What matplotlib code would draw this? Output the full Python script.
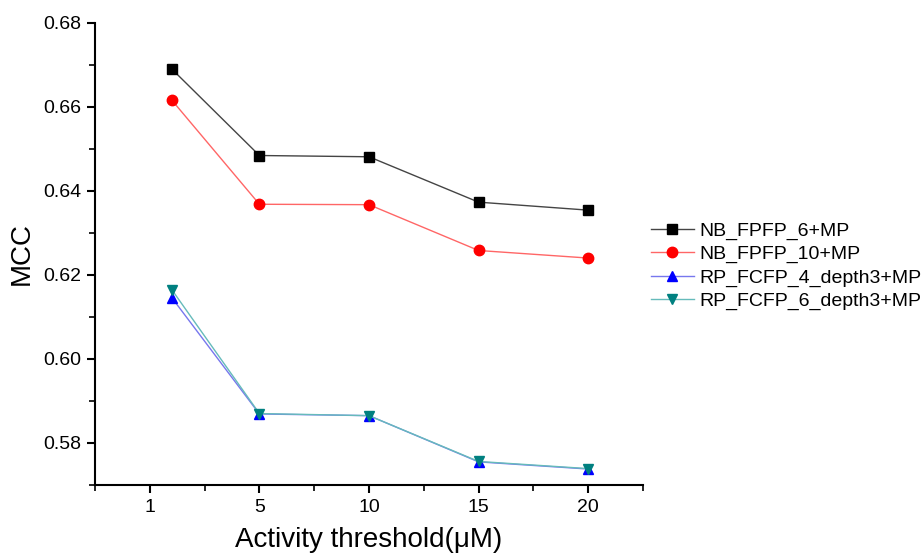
import numpy as np
import matplotlib.pyplot as plt
from matplotlib.ticker import MultipleLocator

plt.rcParams['font.family'] = ['Liberation Sans', 'DejaVu Sans']

thresholds = [1, 5, 10, 15, 20]
tick_pos = [0, 5, 10, 15, 20]
tick_labels = ['1', '5', '10', '15', '20']

nb_fpfp_6 = [0.6690, 0.6484, 0.6481, 0.6373, 0.6354]
nb_fpfp_10 = [0.6616, 0.6368, 0.6367, 0.6258, 0.6240]
rp_fcfp_4 = [0.6146, 0.5869, 0.5865, 0.5755, 0.5738]
rp_fcfp_6 = [0.6165, 0.5870, 0.5865, 0.5756, 0.5739]

labels = ['NB_FPFP_6+MP', 'NB_FPFP_10+MP', 'RP_FCFP_4_depth3+MP', 'RP_FCFP_6_depth3+MP']

fig = plt.figure(figsize=(9.22, 5.56), dpi=100)
ax = fig.add_axes([95 / 922, 1 - 485 / 556, (643 - 95) / 922, (485 - 22.7) / 556])

lines = []
lines += ax.plot(thresholds, nb_fpfp_6, color='#444444', lw=1, marker='s', ms=6.5,
                 mfc='black', mec='black', label=labels[0])
lines += ax.plot(thresholds, nb_fpfp_10, color='#ff6666', lw=1, marker='o', ms=7.5,
                 mfc='red', mec='red', label=labels[1])
lines += ax.plot(thresholds, rp_fcfp_4, color='#7777ee', lw=1, marker='^', ms=7.5,
                 mfc='blue', mec='blue', label=labels[2])
lines += ax.plot(thresholds, rp_fcfp_6, color='#66bbbb', lw=1, marker='v', ms=7.5,
                 mfc='#008080', mec='#008080', label=labels[3])

ax.set_xlim(-2.5, 22.5)
ax.set_ylim(0.57, 0.68)
ax.set_xticks(tick_pos)
ax.set_xticklabels(tick_labels)
ax.xaxis.set_minor_locator(MultipleLocator(2.5))
ax.set_yticks([0.58, 0.60, 0.62, 0.64, 0.66, 0.68])
ax.yaxis.set_minor_locator(MultipleLocator(0.01))
ax.yaxis.set_major_formatter(plt.FormatStrFormatter('%.2f'))

for s in ['top', 'right']:
    ax.spines[s].set_visible(False)
for s in ['left', 'bottom']:
    ax.spines[s].set_linewidth(1.5)

ax.tick_params(which='major', direction='out', length=6, width=1.5, labelsize=14, pad=4)
ax.tick_params(which='minor', direction='out', length=4, width=1.2)

ax.set_xlabel('Activity threshold(μM)', fontsize=20, labelpad=8)
ax.set_ylabel('MCC', fontsize=20, labelpad=6)

fig.legend(handles=lines, loc='upper left', bbox_to_anchor=(651 / 922, 1 - 222 / 556),
           frameon=False, fontsize=14, handlelength=2.2, handletextpad=0.3,
           labelspacing=0.29, borderpad=0, borderaxespad=0)

fig.savefig('out.png', dpi=100)
